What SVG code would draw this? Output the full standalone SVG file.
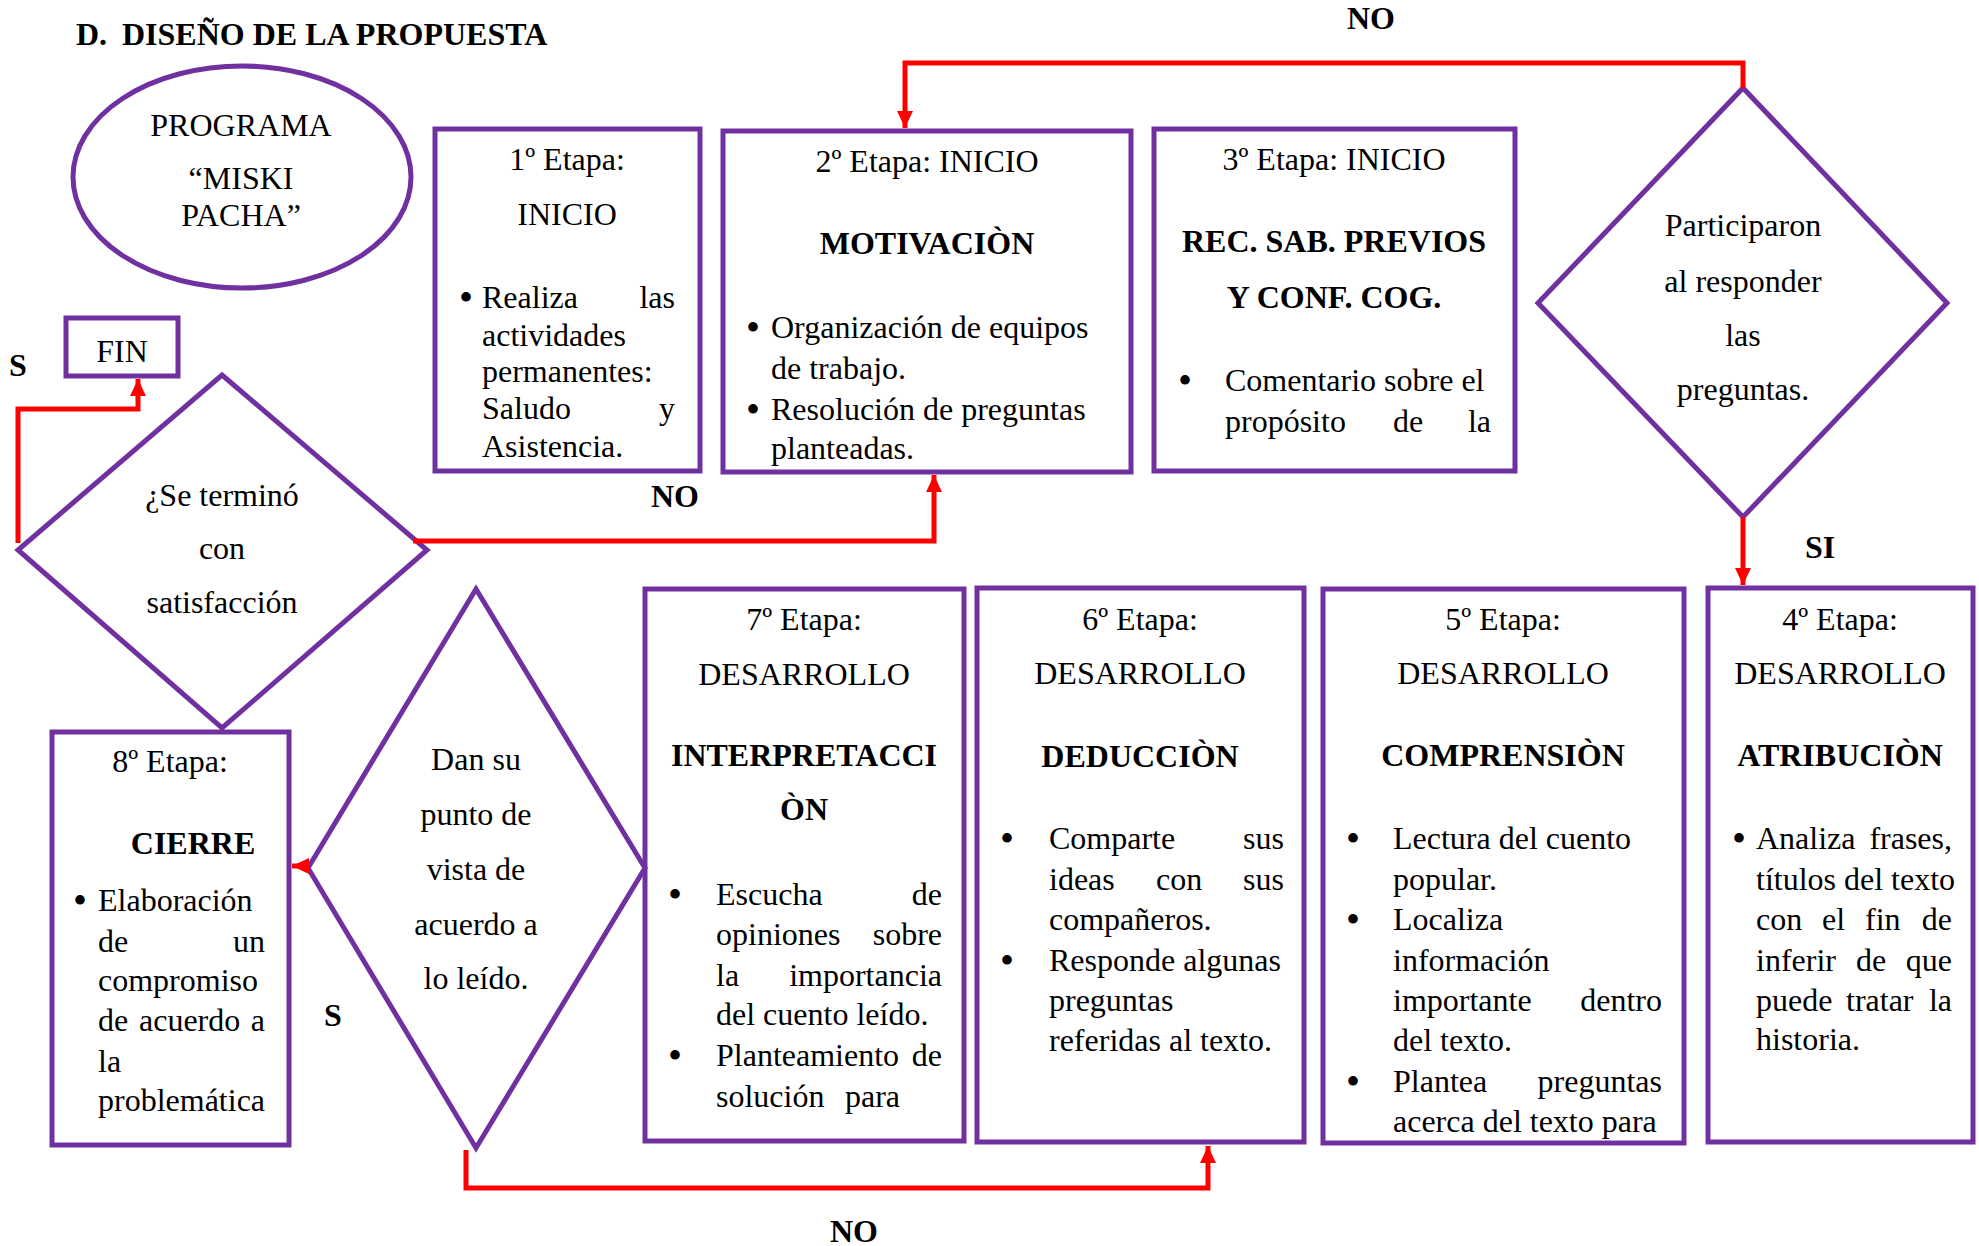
<svg xmlns="http://www.w3.org/2000/svg" width="1979" height="1246" viewBox="0 0 1979 1246">
<style>
text{font-family:"Liberation Serif","Times New Roman",serif;font-size:32px;fill:#000}
.b{font-weight:bold}
.c{text-anchor:middle}
.e{text-anchor:end}
.u{font-size:40px}
.node{fill:#fff;stroke:#7030A0;stroke-width:5}
.link{fill:none;stroke:#FF0000;stroke-width:5}
</style>
<defs>
<marker id="arr" markerUnits="userSpaceOnUse" markerWidth="18" markerHeight="18" viewBox="0 0 18 18" refX="17" refY="9" orient="auto">
<path d="M0,1 L17,9 L0,17 Z" fill="#FF0000"/>
</marker>
</defs>
<rect width="1979" height="1246" fill="#fff"/>

<text class="b" x="76" y="45">D.</text>
<text class="b" x="122" y="45">DISEÑO DE LA PROPUESTA</text>

<g id="programa">
<ellipse class="node" cx="242" cy="177" rx="169" ry="111"/>
<text class="c" x="241" y="136">PROGRAMA</text>
<text class="c" x="241" y="189">“MISKI</text>
<text class="c" x="241" y="226">PACHA”</text>
</g>

<g id="fin">
<rect class="node" x="66" y="318" width="112" height="58"/>
<text class="c" x="122" y="362">FIN</text>
</g>

<g id="etapa1">
<rect class="node" x="435" y="129" width="265" height="342"/>
<text class="c" x="567" y="170">1º Etapa:</text>
<text class="c" x="567" y="225">INICIO</text>
<text class="c u" x="466" y="311">•</text>
<text x="482" y="308">Realiza</text><text class="e" x="675" y="308">las</text>
<text x="482" y="346">actividades</text>
<text x="482" y="382">permanentes:</text>
<text x="482" y="419">Saludo</text><text class="e" x="675" y="419">y</text>
<text x="482" y="457">Asistencia.</text>
</g>

<g id="etapa2">
<rect class="node" x="723" y="131" width="408" height="341"/>
<text class="c" x="927" y="172">2º Etapa: INICIO</text>
<text class="b c" x="927" y="254">MOTIVACIÒN</text>
<text class="c u" x="753" y="341">•</text>
<text x="771" y="338">Organización de equipos</text>
<text x="771" y="379">de trabajo.</text>
<text class="c u" x="753" y="423">•</text>
<text x="771" y="420">Resolución de preguntas</text>
<text x="771" y="459">planteadas.</text>
</g>

<g id="etapa3">
<rect class="node" x="1154" y="129" width="361" height="342"/>
<text class="c" x="1334" y="170">3º Etapa: INICIO</text>
<text class="b c" x="1334" y="252">REC. SAB. PREVIOS</text>
<text class="b c" x="1334" y="308">Y CONF. COG.</text>
<text class="c u" x="1185" y="394">•</text>
<text x="1225" y="391">Comentario sobre el</text>
<text x="1225" y="432">propósito</text><text class="c" x="1408" y="432">de</text><text class="e" x="1491" y="432">la</text>
</g>

<g id="participaron">
<polygon class="node" points="1743,88 1947,303 1743,517 1538,303"/>
<text class="c" x="1743" y="236">Participaron</text>
<text class="c" x="1743" y="292">al responder</text>
<text class="c" x="1743" y="346">las</text>
<text class="c" x="1743" y="400">preguntas.</text>
</g>

<g id="etapa4">
<rect class="node" x="1708" y="588" width="265" height="554"/>
<text class="c" x="1840" y="630">4º Etapa:</text>
<text class="c" x="1840" y="684">DESARROLLO</text>
<text class="b c" x="1840" y="766">ATRIBUCIÒN</text>
<text class="c u" x="1739" y="852">•</text>
<text x="1756" y="849">Analiza</text><text class="e" x="1952" y="849">frases,</text>
<text x="1756" y="890">títulos del texto</text>
<text x="1756" y="930">con</text><text x="1822" y="930">el</text><text x="1865" y="930">fin</text><text class="e" x="1952" y="930">de</text>
<text x="1756" y="971">inferir</text><text x="1856" y="971">de</text><text class="e" x="1952" y="971">que</text>
<text x="1756" y="1011">puede</text><text x="1846" y="1011">tratar</text><text class="e" x="1952" y="1011">la</text>
<text x="1756" y="1050">historia.</text>
</g>

<g id="etapa5">
<rect class="node" x="1323" y="589" width="361" height="554"/>
<text class="c" x="1503" y="630">5º Etapa:</text>
<text class="c" x="1503" y="684">DESARROLLO</text>
<text class="b c" x="1503" y="766">COMPRENSIÒN</text>
<text class="c u" x="1353" y="852">•</text>
<text x="1393" y="849">Lectura del cuento</text>
<text x="1393" y="890">popular.</text>
<text class="c u" x="1353" y="933">•</text>
<text x="1393" y="930">Localiza</text>
<text x="1393" y="971">información</text>
<text x="1393" y="1011">importante</text><text class="e" x="1662" y="1011">dentro</text>
<text x="1393" y="1051">del texto.</text>
<text class="c u" x="1353" y="1095">•</text>
<text x="1393" y="1092">Plantea</text><text class="e" x="1662" y="1092">preguntas</text>
<text x="1393" y="1132">acerca del texto para</text>
</g>

<g id="etapa6">
<rect class="node" x="977" y="588" width="327" height="554"/>
<text class="c" x="1140" y="630">6º Etapa:</text>
<text class="c" x="1140" y="684">DESARROLLO</text>
<text class="b c" x="1140" y="767">DEDUCCIÒN</text>
<text class="c u" x="1007" y="852">•</text>
<text x="1049" y="849">Comparte</text><text class="e" x="1284" y="849">sus</text>
<text x="1049" y="890">ideas</text><text x="1156" y="890">con</text><text class="e" x="1284" y="890">sus</text>
<text x="1049" y="930">compañeros.</text>
<text class="c u" x="1007" y="974">•</text>
<text x="1049" y="971">Responde algunas</text>
<text x="1049" y="1011">preguntas</text>
<text x="1049" y="1051">referidas al texto.</text>
</g>

<g id="etapa7">
<rect class="node" x="645" y="589" width="319" height="552"/>
<text class="c" x="804" y="630">7º Etapa:</text>
<text class="c" x="804" y="685">DESARROLLO</text>
<text class="b c" x="804" y="766">INTERPRETACCI</text>
<text class="b c" x="804" y="820">ÒN</text>
<text class="c u" x="675" y="908">•</text>
<text x="716" y="905">Escucha</text><text class="e" x="942" y="905">de</text>
<text x="716" y="945">opiniones</text><text class="e" x="942" y="945">sobre</text>
<text x="716" y="986">la</text><text class="e" x="942" y="986">importancia</text>
<text x="716" y="1025">del cuento leído.</text>
<text class="c u" x="675" y="1069">•</text>
<text x="716" y="1066">Planteamiento</text><text class="e" x="942" y="1066">de</text>
<text x="716" y="1107">solución</text><text x="845" y="1107">para</text>
</g>

<g id="danPunto">
<polygon class="node" points="476,589 645,868 476,1148 308,868"/>
<text class="c" x="476" y="770">Dan su</text>
<text class="c" x="476" y="825">punto de</text>
<text class="c" x="476" y="880">vista de</text>
<text class="c" x="476" y="935">acuerdo a</text>
<text class="c" x="476" y="989">lo leído.</text>
</g>

<g id="etapa8">
<rect class="node" x="52" y="732" width="237" height="413"/>
<text class="c" x="170" y="772">8º Etapa:</text>
<text class="b c" x="193" y="854">CIERRE</text>
<text class="c u" x="80" y="914">•</text>
<text x="98" y="911">Elaboración</text>
<text x="98" y="952">de</text><text class="e" x="265" y="952">un</text>
<text x="98" y="991">compromiso</text>
<text x="98" y="1031">de</text><text x="139" y="1031">acuerdo</text><text class="e" x="265" y="1031">a</text>
<text x="98" y="1072">la</text>
<text x="98" y="1111">problemática</text>
</g>

<g id="seTermino">
<polygon class="node" points="222,375 427,550 222,728 18,550"/>
<text class="c" x="222" y="506">¿Se terminó</text>
<text class="c" x="222" y="559">con</text>
<text class="c" x="222" y="613">satisfacción</text>
</g>

<g id="connectors">
<path class="link" d="M1743,88 V63 H905 V128" marker-end="url(#arr)"/>
<path class="link" d="M1743,517 V585" marker-end="url(#arr)"/>
<path class="link" d="M413,541 H934 V475" marker-end="url(#arr)"/>
<path class="link" d="M18,543 V409 H138 V379" marker-end="url(#arr)"/>
<path class="link" d="M310,866 H292" marker-end="url(#arr)"/>
<path class="link" d="M466,1150 V1188 H1208 V1146" marker-end="url(#arr)"/>
</g>

<g id="labels">
<text class="b c" x="1371" y="29">NO</text>
<text class="b c" x="1820" y="558">SI</text>
<text class="b c" x="675" y="507">NO</text>
<text class="b c" x="18" y="376">S</text>
<text class="b c" x="333" y="1026">S</text>
<text class="b c" x="854" y="1242">NO</text>
</g>
</svg>
